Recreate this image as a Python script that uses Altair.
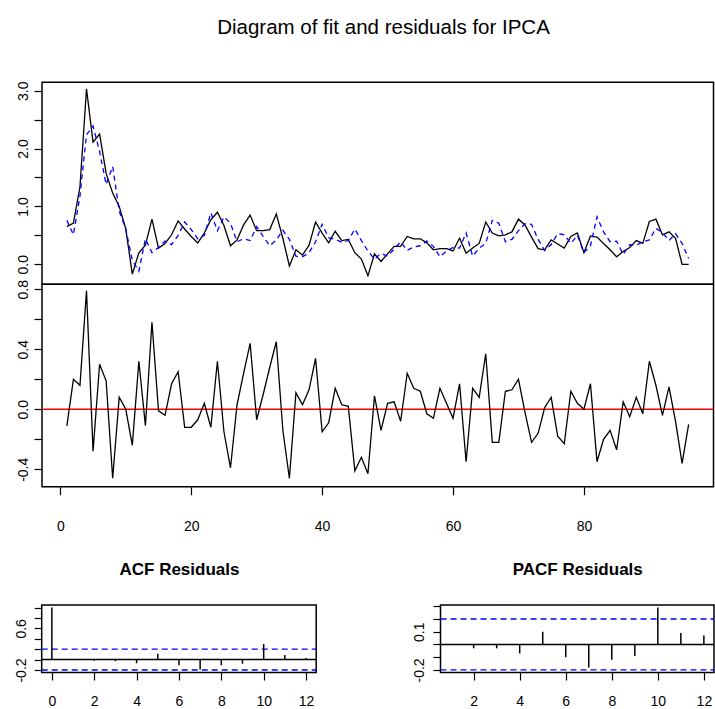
import altair as alt
import pandas as pd

# ---- series ---------------------------------------------------------------
t = list(range(1, 97))

actual = [0.65, 0.71, 1.34, 3.03, 2.11, 2.25, 1.57, 1.23, 1.00, 0.61,
          -0.17, 0.20, 0.33, 0.78, 0.28, 0.36, 0.51, 0.75, 0.61, 0.48,
          0.37, 0.54, 0.77, 0.90, 0.67, 0.32, 0.42, 0.68, 0.85, 0.58,
          0.58, 0.60, 0.87, 0.45, -0.03, 0.25, 0.16, 0.33, 0.73, 0.54,
          0.37, 0.57, 0.41, 0.43, 0.20, 0.09, -0.20, 0.18, 0.05, 0.18,
          0.31, 0.31, 0.48, 0.44, 0.44, 0.37, 0.25, 0.27, 0.27, 0.23,
          0.45, 0.19, 0.28, 0.36, 0.73, 0.54, 0.49, 0.51, 0.56, 0.78,
          0.68, 0.47, 0.27, 0.25, 0.42, 0.35, 0.28, 0.48, 0.54, 0.20,
          0.49, 0.47, 0.36, 0.25, 0.13, 0.22, 0.29, 0.41, 0.36, 0.74,
          0.78, 0.51, 0.56, 0.45, 0.00, 0.00]

fitted = [0.76, 0.51, 1.18, 2.24, 2.39, 1.95, 1.38, 1.69, 0.92, 0.61,
          0.07, -0.12, 0.44, 0.20, 0.29, 0.40, 0.34, 0.50, 0.73, 0.60,
          0.44, 0.50, 0.89, 0.58, 0.82, 0.71, 0.39, 0.44, 0.41, 0.65,
          0.48, 0.32, 0.42, 0.59, 0.43, 0.14, 0.13, 0.20, 0.39, 0.69,
          0.46, 0.43, 0.38, 0.41, 0.61, 0.41, 0.23, 0.09, 0.19, 0.14,
          0.26, 0.39, 0.24, 0.30, 0.32, 0.40, 0.31, 0.13, 0.23, 0.29,
          0.28, 0.54, 0.14, 0.28, 0.36, 0.76, 0.71, 0.39, 0.43, 0.58,
          0.70, 0.69, 0.43, 0.24, 0.34, 0.53, 0.51, 0.36, 0.50, 0.20,
          0.32, 0.82, 0.56, 0.39, 0.40, 0.17, 0.34, 0.33, 0.39, 0.42,
          0.62, 0.55, 0.41, 0.53, 0.36, 0.10]

residuals = [-0.11, 0.20, 0.16, 0.79, -0.28, 0.30, 0.19, -0.46, 0.08, 0.00,
             -0.24, 0.32, -0.11, 0.58, -0.01, -0.04, 0.17, 0.25, -0.12, -0.12,
             -0.07, 0.04, -0.12, 0.32, -0.15, -0.39, 0.03, 0.24, 0.44, -0.07,
             0.10, 0.28, 0.45, -0.14, -0.46, 0.11, 0.03, 0.13, 0.34, -0.15,
             -0.09, 0.14, 0.03, 0.02, -0.41, -0.32, -0.43, 0.09, -0.14, 0.04,
             0.05, -0.08, 0.24, 0.14, 0.12, -0.03, -0.06, 0.14, 0.04, -0.06,
             0.17, -0.35, 0.14, 0.08, 0.37, -0.22, -0.22, 0.12, 0.13, 0.20,
             -0.02, -0.22, -0.16, 0.01, 0.08, -0.18, -0.23, 0.12, 0.04, 0.00,
             0.17, -0.35, -0.20, -0.14, -0.27, 0.05, -0.05, 0.08, -0.03, 0.32,
             0.16, -0.04, 0.15, -0.08, -0.36, -0.10]

acf_lag = list(range(0, 13))
acf_val = [1.00, -0.01, -0.02, -0.03, -0.07, 0.11, -0.11, -0.19, -0.11,
           -0.08, 0.30, 0.09, 0.03]

pacf_lag = list(range(1, 13))
pacf_val = [0.00, -0.03, -0.03, -0.07, 0.10, -0.10, -0.18, -0.12, -0.09,
            0.29, 0.09, 0.07]

conf_bounds = [0.2, -0.2]

# ---- scale domains (data units) ------------------------------------------
main_xdom = [-2.8, 99.8]
top_ydom = [-0.346, 3.145]
mid_ydom = [-0.516, 0.833]
acf_xdom = [-0.48, 12.48]
acf_ydom = [-0.248, 1.048]
pacf_xdom = [0.56, 12.44]
pacf_ydom = [-0.22, 0.31]

# ---- page layout (pixels) ------------------------------------------------
W, H = 715, 709
MAIN_X = [42.0, 713.5]
TOP_Y = [284.3, 82.3]
MID_Y = [486.7, 284.3]
ACF_X = [41.7, 316.2]
PACF_X = [440.5, 714.0]
LOW_Y = [672.5, 605.0]

FONT = "Liberation Sans"
LBL = 14


def sc(dom, rng):
    return alt.Scale(domain=dom, range=rng, nice=False, zero=False)


def label_expr(keep):
    keep_s = ",".join(str(k) for k in keep)
    return ("indexof([" + keep_s + "], round(datum.value*100)) >= 0 ? "
            "(datum.value < 0 ? '-' + format(-datum.value, '.1f') : "
            "format(datum.value, '.1f')) : ''")


def y_axis(values, keep, left_px, tick, pad):
    return alt.Axis(orient="left", offset=-left_px, values=values,
                    labelExpr=label_expr(keep), labelAngle=270,
                    labelAlign="center", labelBaseline="alphabetic",
                    labelPadding=pad, tickSize=tick, tickWidth=1.2,
                    tickColor="black", domain=False, grid=False,
                    labelFont=FONT, labelFontSize=LBL, labelColor="black",
                    labelOverlap=False, labelFlush=False, title=None)


def x_axis(values, bottom_px, tick, pad, title=None, title_y=None):
    if title is not None:
        kw = dict(title=title, titleY=title_y - bottom_px,
                  titleBaseline="alphabetic", titleFont=FONT,
                  titleFontSize=17, titleFontWeight="bold",
                  titleColor="black", titleAnchor="middle")
    else:
        kw = dict(title=None)
    return alt.Axis(orient="bottom", offset=bottom_px - H, values=values,
                    format="d", labelPadding=pad, tickSize=tick,
                    tickWidth=1.2, tickColor="black", domain=False,
                    grid=False, labelFont=FONT, labelFontSize=LBL,
                    labelColor="black", labelOverlap=False,
                    labelFlush=False, **kw)


class Panel:
    """One boxed plotting region with its own scales and axes."""

    def __init__(self, xdom, ydom, xrng, yrng, xaxis, yaxis):
        self.xdom, self.ydom = xdom, ydom
        self.xs, self.ys = sc(xdom, xrng), sc(ydom, yrng)
        self.xaxis, self.yaxis = xaxis, yaxis

    def X(self, field):
        return alt.X(field, scale=self.xs, axis=self.xaxis)

    def Y(self, field):
        return alt.Y(field, scale=self.ys, axis=self.yaxis)

    def frame(self):
        df = pd.DataFrame({"x0": [self.xdom[0]], "x1": [self.xdom[1]],
                           "y0": [self.ydom[0]], "y1": [self.ydom[1]]})
        return alt.Chart(df).mark_rect(filled=False, color="black",
                                       strokeWidth=1.5).encode(
            x=self.X("x0:Q"), x2="x1:Q", y=self.Y("y0:Q"), y2="y1:Q")

    def hline(self, yvals, color, dash=None, width=1.3):
        df = pd.DataFrame({"x0": [self.xdom[0]] * len(yvals),
                           "x1": [self.xdom[1]] * len(yvals), "y": yvals})
        kw = dict(color=color, strokeWidth=width)
        if dash:
            kw["strokeDash"] = dash
        return alt.Chart(df).mark_rule(**kw).encode(
            x=self.X("x0:Q"), x2="x1:Q", y=self.Y("y:Q"))


series = pd.DataFrame({"t": t, "actual": actual, "fitted": fitted,
                       "resid": residuals})

# ---- top panel: observed vs fitted ---------------------------------------
title_axis = alt.Axis(orient="top", offset=0, ticks=False, labels=False,
                      domain=False, grid=False,
                      title="Diagram of fit and residuals for IPCA",
                      titleX=383, titleY=33, titleAlign="center",
                      titleBaseline="alphabetic", titleFont=FONT,
                      titleFontSize=20.5, titleFontWeight="normal",
                      titleColor="black")
p_top = Panel(main_xdom, top_ydom, MAIN_X, TOP_Y, title_axis,
              y_axis([0, 0.5, 1, 1.5, 2, 2.5, 3], [0, 100, 200, 300],
                     MAIN_X[0], 8, 7))
top = alt.layer(
    p_top.frame(),
    alt.Chart(series).mark_line(color="black", strokeWidth=1.3).encode(
        x=p_top.X("t:Q"), y=p_top.Y("actual:Q")),
    alt.Chart(series).mark_line(color="#0000ff", strokeWidth=1.3,
                                strokeDash=[5, 4]).encode(
        x=p_top.X("t:Q"), y=p_top.Y("fitted:Q")),
)

# ---- middle panel: residuals ---------------------------------------------
p_mid = Panel(main_xdom, mid_ydom, MAIN_X, MID_Y,
              x_axis([0, 20, 40, 60, 80], MID_Y[0], 8, 25),
              y_axis([-0.4, -0.2, 0, 0.2, 0.4, 0.6, 0.8], [-40, 0, 40, 80],
                     MAIN_X[0], 8, 7))
mid = alt.layer(
    p_mid.frame(),
    p_mid.hline([0.0], "#ff0000", width=1.6),
    alt.Chart(series).mark_line(color="black", strokeWidth=1.3).encode(
        x=p_mid.X("t:Q"), y=p_mid.Y("resid:Q")),
)

# ---- ACF of residuals ----------------------------------------------------
acf_df = pd.DataFrame({"lag": acf_lag, "val": acf_val})
p_acf = Panel(acf_xdom, acf_ydom, ACF_X, LOW_Y,
              x_axis(list(range(0, 13, 2)), LOW_Y[0], 7.5, 14.5,
                     title="ACF Residuals", title_y=574),
              y_axis([-0.2, 0, 0.2, 0.4, 0.6, 0.8, 1.0], [-20, 60],
                     ACF_X[0], 7.5, 8.5))
acf = alt.layer(
    p_acf.frame(),
    p_acf.hline([0.0], "black", width=1.5),
    p_acf.hline(conf_bounds, "#0000ff", dash=[6, 4]),
    alt.Chart(acf_df).mark_rule(color="black", strokeWidth=1.5).encode(
        x=p_acf.X("lag:Q"), y=p_acf.Y("val:Q"), y2=alt.datum(0)),
)

# ---- PACF of residuals ---------------------------------------------------
pacf_df = pd.DataFrame({"lag": pacf_lag, "val": pacf_val})
p_pacf = Panel(pacf_xdom, pacf_ydom, PACF_X, LOW_Y,
               x_axis(list(range(2, 13, 2)), LOW_Y[0], 7.5, 14.5,
                      title="PACF Residuals", title_y=574),
               y_axis([-0.2, -0.1, 0, 0.1, 0.2, 0.3], [-20, 10],
                      PACF_X[0], 7.5, 10))
pacf = alt.layer(
    p_pacf.frame(),
    p_pacf.hline([0.0], "black", width=1.5),
    p_pacf.hline(conf_bounds, "#0000ff", dash=[6, 4]),
    alt.Chart(pacf_df).mark_rule(color="black", strokeWidth=1.5).encode(
        x=p_pacf.X("lag:Q"), y=p_pacf.Y("val:Q"), y2=alt.datum(0)),
)

chart = (
    alt.layer(top, mid, acf, pacf)
    .resolve_scale(x="independent", y="independent")
    .resolve_axis(x="independent", y="independent")
    .properties(width=W, height=H, padding=0,
                autosize=alt.AutoSizeParams(type="none"),
                background="white")
    .configure_view(stroke=None)
)

chart.save("out.html", embed_options={"renderer": "svg", "actions": False})
